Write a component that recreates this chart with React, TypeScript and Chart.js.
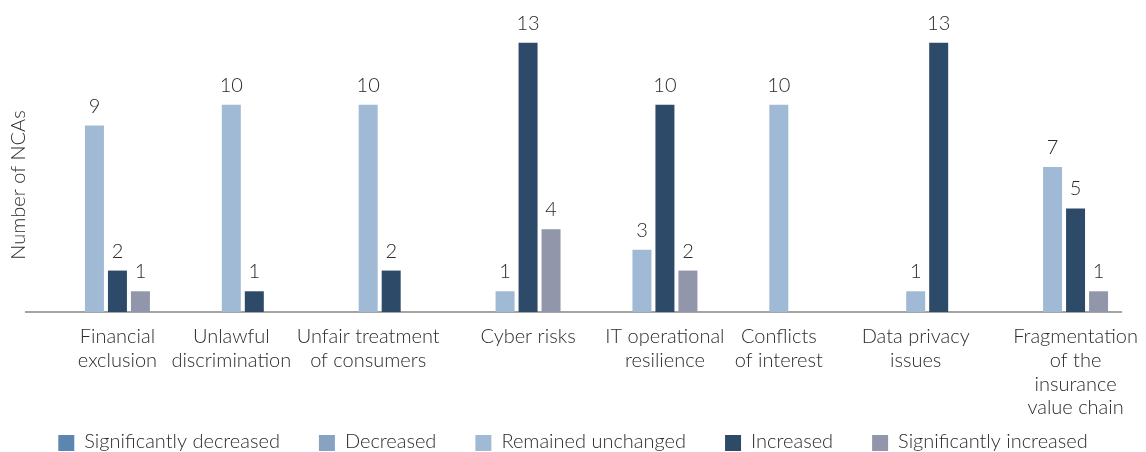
import React, { useEffect, useRef } from "react";
import { Chart, registerables } from "chart.js";

Chart.register(...registerables);

// ---- data ----
const categories: string[][] = [
  ["Financial", "exclusion"],
  ["Unlawful", "discrimination"],
  ["Unfair treatment", "of consumers"],
  ["Cyber risks"],
  ["IT operational", "resilience"],
  ["Conflicts", "of interest"],
  ["Data privacy", "issues"],
  ["Fragmentation", "of the", "insurance", "value chain"],
];
const seriesNames = [
  "Significantly decreased",
  "Decreased",
  "Remained unchanged",
  "Increased",
  "Significantly increased",
];
const significantlyDecreased: (number | null)[] = [null, null, null, null, null, null, null, null];
const decreased: (number | null)[] = [null, null, null, null, null, null, null, null];
const remainedUnchanged: (number | null)[] = [9, 10, 10, 1, 3, 10, 1, 7];
const increased: (number | null)[] = [2, 1, 2, 13, 10, null, 13, 5];
const significantlyIncreased: (number | null)[] = [1, null, null, 4, 2, null, null, 1];
const yAxisTitle = "Number of NCAs";

// ---- style ----
const seriesColors = ["#5b86b2", "#88a2c1", "#a0bad5", "#2d4a69", "#9196ab"];
const FONT_FAMILY = "Lato, 'Open Sans', sans-serif";
const FONT_SIZE = 20;
const TEXT_COLOR = "#2b2b2b";
const CAT_PCT = 0.84;
const BAR_PCT = 0.826;
const W = 1146;
const H = 452;

const seriesValues = [
  significantlyDecreased,
  decreased,
  remainedUnchanged,
  increased,
  significantlyIncreased,
];

const fontStr = () => `300 ${FONT_SIZE}px ${FONT_FAMILY}`;

const valueLabelsPlugin = {
  id: "valueLabels",
  afterDatasetsDraw(chart: any) {
    const ctx = chart.ctx;
    ctx.save();
    ctx.font = fontStr();
    ctx.fillStyle = TEXT_COLOR;
    ctx.textAlign = "center";
    ctx.textBaseline = "alphabetic";
    chart.data.datasets.forEach((ds: any, di: number) => {
      const meta = chart.getDatasetMeta(di);
      meta.data.forEach((el: any, i: number) => {
        const v = ds.data[i];
        if (v === null || v === undefined) return;
        ctx.fillText(String(v), el.x, el.y - 13);
      });
    });
    ctx.restore();
  },
};

const customTextPlugin = {
  id: "customText",
  afterDraw(chart: any) {
    const ctx = chart.ctx;
    const xScale = chart.scales.x;
    const area = chart.chartArea;
    const n = categories.length;
    const nSeries = seriesValues.length;
    const catW = (xScale.right - xScale.left) / n;
    const slotW = (catW * CAT_PCT) / nSeries;
    const center = (nSeries - 1) / 2;
    ctx.save();
    ctx.font = fontStr();
    ctx.fillStyle = TEXT_COLOR;
    ctx.textAlign = "center";
    ctx.textBaseline = "alphabetic";
    // category labels centred on the middle of the bars that are present
    categories.forEach((lines, i) => {
      const present: number[] = [];
      seriesValues.forEach((arr, s) => {
        if (arr[i] !== null && arr[i] !== undefined) present.push(s);
      });
      const mid = present.length ? Math.floor((present[0] + present[present.length - 1]) / 2) : center;
      const x = xScale.getPixelForValue(i) + (mid - center) * slotW;
      lines.forEach((line, k) => {
        ctx.fillText(line, x, area.bottom + 31 + k * 23.8);
      });
    });
    // y axis title
    ctx.save();
    ctx.translate(19, 185);
    ctx.rotate(-Math.PI / 2);
    ctx.textBaseline = "middle";
    ctx.fillText(yAxisTitle, 0, 0);
    ctx.restore();
    // legend
    const box = 16;
    const gapBoxText = 10;
    const gapItems = 39;
    const widths = seriesNames.map((s) => ctx.measureText(s).width);
    const total =
      widths.reduce((a, w) => a + box + gapBoxText + w, 0) + gapItems * (seriesNames.length - 1);
    let x = (W - total) / 2;
    ctx.textAlign = "left";
    seriesNames.forEach((name, s) => {
      ctx.fillStyle = seriesColors[s];
      ctx.fillRect(x, 435, box, box);
      ctx.fillStyle = TEXT_COLOR;
      ctx.fillText(name, x + box + gapBoxText, 448);
      x += box + gapBoxText + widths[s] + gapItems;
    });
    ctx.restore();
  },
};

export default function App() {
  const ref = useRef<HTMLCanvasElement | null>(null);
  useEffect(() => {
    if (!ref.current) return;
    const chart = new Chart(ref.current, {
      type: "bar",
      data: {
        labels: categories,
        datasets: seriesNames.map((name, s) => ({
          label: name,
          data: seriesValues[s],
          backgroundColor: seriesColors[s],
          borderWidth: 0,
          categoryPercentage: CAT_PCT,
          barPercentage: BAR_PCT,
        })),
      },
      options: {
        responsive: false,
        animation: false,
        layout: { padding: { left: 26, right: 25, top: 22, bottom: 140 } },
        plugins: {
          legend: { display: false },
          tooltip: { enabled: false },
        },
        scales: {
          x: {
            grid: { display: false, drawTicks: false },
            ticks: { display: false },
            border: { display: true, color: "#a3a3a3", width: 2 },
          },
          y: {
            display: false,
            min: 0,
            max: 14,
          },
        },
      },
      plugins: [valueLabelsPlugin, customTextPlugin],
    });
    return () => chart.destroy();
  }, []);
  return (
    <div style={{ position: "absolute", left: 0, top: 0, width: W, height: H, background: "#fff" }}>
      <canvas ref={ref} width={W} height={H} style={{ display: "block" }} />
    </div>
  );
}
